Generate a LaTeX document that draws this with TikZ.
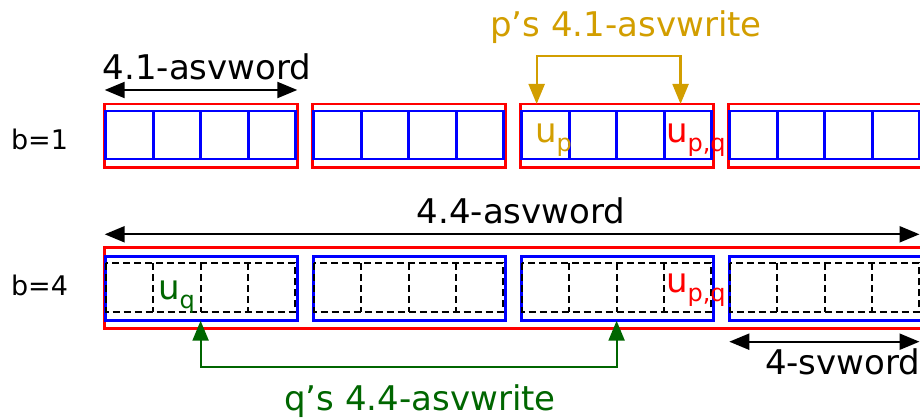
\documentclass[tikz,border=0pt]{standalone}
\usepackage{fontspec}
\setmainfont{DejaVu Sans}
\usetikzlibrary{arrows.meta,calc}
\definecolor{boxred}{RGB}{255,0,0}
\definecolor{boxblue}{RGB}{0,0,255}
\definecolor{gold}{RGB}{210,158,0}
\definecolor{dgreen}{RGB}{0,102,0}
\newcommand{\subtxt}[1]{\raisebox{-9pt}{\fontsize{24}{24}\selectfont #1}}
\begin{document}
\begin{tikzpicture}[x=1pt,y=-1pt,
  every node/.style={inner sep=0pt,outer sep=0pt},
  redbox/.style={draw=boxred,line width=2.5pt,anchor=north west},
  bluebox/.style={draw=boxblue,line width=2.8pt,anchor=north west},
  bluecell/.style={draw=boxblue,line width=2.8pt,anchor=north west,
                   minimum width=47.5pt,minimum height=48pt},
  dashcell/.style={anchor=north west,minimum width=47.3pt,minimum height=48.4pt},
  dashline/.style={draw=black,line width=1.8pt,dash pattern=on 7pt off 4pt},
  lbl/.style={font=\fontsize{34}{40}\selectfont},
  rowlbl/.style={font=\fontsize{27}{32}\selectfont},
  measure/.style={{Triangle[length=20pt,width=16pt]}-{Triangle[length=20pt,width=16pt]},line width=2.2pt},
  bracket/.style={{Triangle[length=20pt,width=16pt]}-{Triangle[length=20pt,width=16pt]},line width=2.2pt}]
\useasboundingbox (0,0) rectangle (920,419);
\clip (0,0) rectangle (920,419);

% ---- b=1 : four 4.1-asvwords, each of four blue cells
\foreach \i in {0,...,3}{
  \pgfmathsetmacro{\xo}{104.7+208*\i}
  \node[redbox,minimum width=192.6pt,minimum height=63.5pt] (w1-\i) at (\xo,104) {};
  \foreach \j in {0,...,3}{
    \node[bluecell] (c1-\i-\j) at ({\xo+1+47.5*\j},111) {};
  }
}

% ---- b=4 : one 4.4-asvword made of four 4-svwords
\node[redbox,minimum width=830pt,minimum height=80.6pt] (big) at (104.7,247.7) {};
\foreach \i in {0,...,3}{
  \pgfmathsetmacro{\xo}{104.7+208*\i}
  \node[bluebox,minimum width=192.4pt,minimum height=64pt] (b2-\i) at ({\xo+0.6},256.7) {};
  \foreach \j in {0,...,3}{
    \node[dashcell] (c2-\i-\j) at ({\xo+1.3+47.3*\j},263.3) {};
  }
  % dashed cell grid of this svword
  \draw[dashline] (c2-\i-0.north west) rectangle (c2-\i-3.south east);
  \foreach \j in {0,1,2}{
    \draw[dashline] (c2-\i-\j.north east) -- (c2-\i-\j.south east);
  }
}

% ---- row labels
\node[rowlbl,anchor=base east] (lb1) at (68,150) {b=1};
\node[rowlbl,anchor=base east] (lb4) at (68,295) {b=4};

% ---- measurement arrows
\coordinate (rim) at (919.5,0);
\draw[measure] ($(w1-0.north west)+(0,-14)$) -- ($(w1-0.north east)+(0,-14)$);
\node[lbl,anchor=base] (m41) at (207,80) {4.1-asvword};

\coordinate (m44a) at ($(big.north west)+(0,-13.4)$);
\draw[measure] (m44a) -- (m44a -| rim);
\node[lbl,anchor=base] (m44) at (521,224) {4.4-asvword};

\coordinate (m4a) at ($(b2-3.west |- big.south)+(0,13.4)$);
\draw[measure] (m4a) -- (m4a -| rim);
\node[lbl,anchor=base west] (m4) at (765,374) {4-svword};

% ---- element labels
\node[lbl,text=gold,anchor=base west] (up) at (535,143) {u\subtxt{p}};
\node[lbl,text=boxred,anchor=base west] (upq1) at (666,143) {u\subtxt{p,q}};
\node[lbl,text=dgreen,anchor=base west] (uq) at (158,300) {u\subtxt{q}};
\node[lbl,text=boxred,anchor=base west] (upq4) at (666,293) {u\subtxt{p,q}};

% ---- p's write (b=1)
\coordinate (pa) at ($(c1-2-0.north)+(-8.8,0)$);
\coordinate (pb) at ($(c1-2-3.north)+(-7.4,0)$);
\draw[bracket,draw=gold] (pa |- w1-2.north) -- ++(0,-48) -| (pb |- w1-2.north);
\node[lbl,text=gold,anchor=base] (pw) at (626,37) {p’s 4.1-asvwrite};

% ---- q's write (b=4)
\draw[bracket,draw=dgreen] (c2-0-1.east |- b2-0.south) -- ++(0,46) -| (c2-2-1.east |- b2-2.south);
\node[lbl,text=dgreen,anchor=base] (qw) at (420,410) {q’s 4.4-asvwrite};
\end{tikzpicture}
\end{document}
